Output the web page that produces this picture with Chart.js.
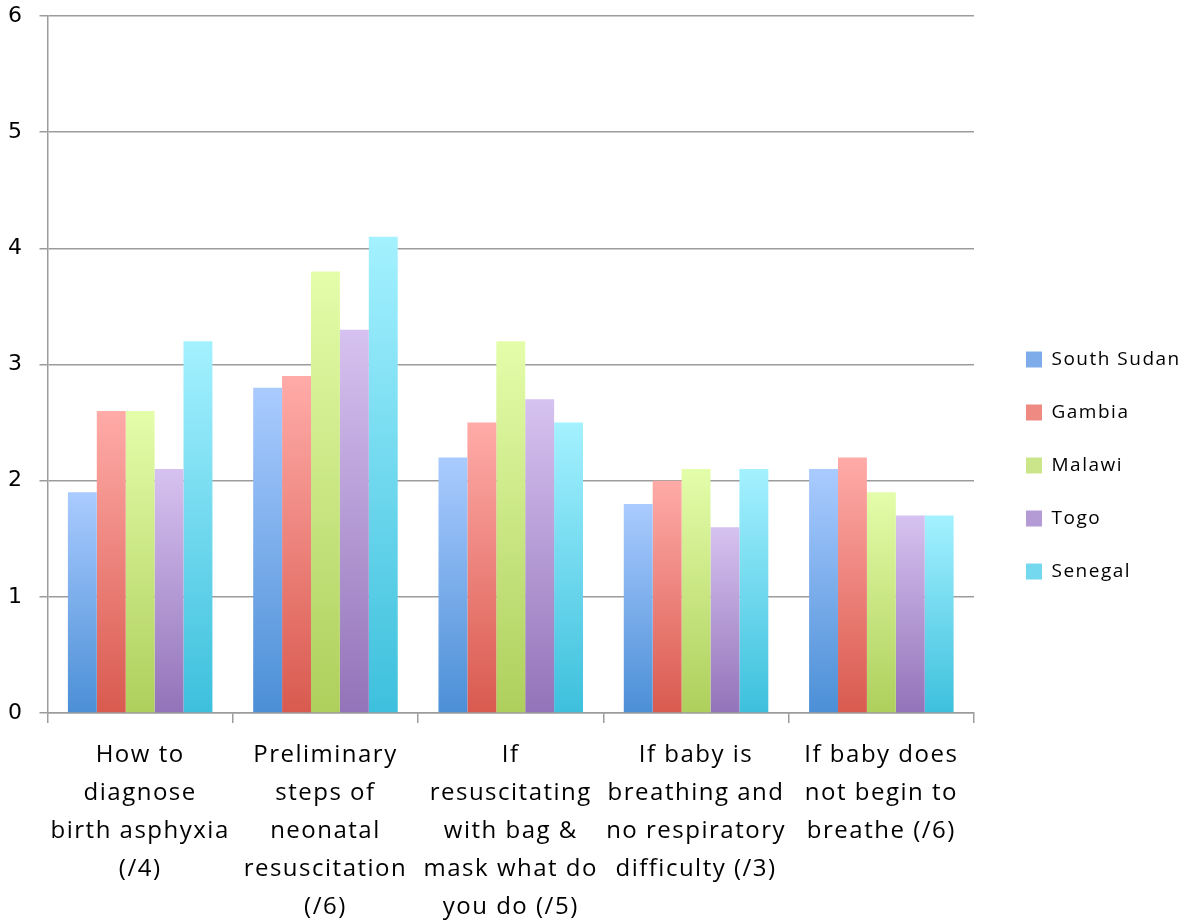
<!DOCTYPE html>
<html>
<head>
<meta charset="utf-8">
<script src="https://cdn.jsdelivr.net/npm/chart.js@4"></script>
<style>
  body { margin: 0; background: #fff; }
  #wrap { width: 1182px; height: 923px; }
</style>
</head>
<body>
<div id="wrap"><canvas id="chart" width="1182" height="923"></canvas></div>
<script>
const categories = [
  ['How to', 'diagnose', 'birth asphyxia', '(/4)'],
  ['Preliminary', 'steps of', 'neonatal', 'resuscitation', '(/6)'],
  ['If', 'resuscitating', 'with bag &', 'mask what do', 'you do (/5)'],
  ['If baby is', 'breathing and', 'no respiratory', 'difficulty (/3)'],
  ['If baby does', 'not begin to', 'breathe (/6)']
];

const southSudan = [1.9, 2.8, 2.2, 1.8, 2.1];
const gambia     = [2.6, 2.9, 2.5, 2.0, 2.2];
const malawi     = [2.6, 3.8, 3.2, 2.1, 1.9];
const togo       = [2.1, 3.3, 2.7, 1.6, 1.7];
const senegal    = [3.2, 4.1, 2.5, 2.1, 1.7];

const yTicks = [0, 1, 2, 3, 4, 5, 6];

// top colour, bottom colour, legend colour
const palette = {
  'South Sudan': ['#aacbff', '#4b8fd6', '#7eacea'],
  'Gambia':      ['#ffaba8', '#d95a4f', '#ef8a82'],
  'Malawi':      ['#e4fdaa', '#aecf5c', '#cbe68a'],
  'Togo':        ['#d6c2f0', '#9373b9', '#b59bd6'],
  'Senegal':     ['#a4f1ff', '#3dc0dd', '#74d9ee']
};

// every bar gets its own light-top / dark-bottom gradient
function barGradient(name) {
  return ctx => {
    const chart = ctx.chart;
    const y = chart.scales && chart.scales.y;
    if (!chart.chartArea || !y || ctx.raw === undefined) return palette[name][2];
    const top = y.getPixelForValue(ctx.raw);
    const bottom = y.getPixelForValue(0);
    if (!isFinite(top) || top === bottom) return palette[name][2];
    const g = chart.ctx.createLinearGradient(0, top, 0, bottom);
    g.addColorStop(0, palette[name][0]);
    g.addColorStop(1, palette[name][1]);
    return g;
  };
}

function series(name, data) {
  return {
    label: name,
    data: data,
    backgroundColor: barGradient(name),
    borderWidth: 0,
    categoryPercentage: 0.78,
    barPercentage: 1.0
  };
}

// the original text is set wide (Calibri on a Mac), so space the letters a bit.
// canvas resizes wipe the context state, so set it again before layout and drawing
function spaceLetters(chart) {
  if ('letterSpacing' in chart.ctx) chart.ctx.letterSpacing = '1.5px';
}
const wideText = {
  id: 'wideText',
  beforeUpdate: spaceLetters,
  beforeLayout: spaceLetters,
  beforeDraw: spaceLetters
};

// fix the legend column width, then nudge it so it sits where the original one does
const legendPlace = {
  id: 'legendPlace',
  beforeInit(chart) {
    const fit = chart.legend.fit;
    chart.legend.fit = function () {
      fit.call(chart.legend);
      this.width = 208;
    };
  },
  beforeDraw(chart) {
    const lg = chart.legend;
    const shift = 992 - lg.left;
    lg.left += shift;
    lg.right += shift;
    lg.top -= 4;
    lg.bottom -= 4;
  }
};

const gridColor = '#9c9c9c';

new Chart(document.getElementById('chart'), {
  type: 'bar',
  data: {
    labels: categories,
    datasets: [
      series('South Sudan', southSudan),
      series('Gambia', gambia),
      series('Malawi', malawi),
      series('Togo', togo),
      series('Senegal', senegal)
    ]
  },
  plugins: [wideText, legendPlace],
  options: {
    responsive: false,
    animation: false,
    layout: { padding: { top: 0, left: -8, right: 0, bottom: -16 } },
    scales: {
      x: {
        grid: {
          offset: true,
          drawOnChartArea: false,
          drawTicks: true,
          tickLength: 10,
          color: gridColor,
          lineWidth: 1.5
        },
        border: { color: gridColor, width: 1.5 },
        ticks: {
          color: '#000',
          padding: 13,
          maxRotation: 0,
          autoSkip: false,
          font: { family: '"Open Sans", sans-serif', size: 24, lineHeight: '38px' }
        }
      },
      y: {
        min: 0,
        max: 6,
        afterBuildTicks: axis => { axis.ticks = yTicks.map(v => ({ value: v })); },
        afterFit: axis => { axis.paddingTop = 16; },
        grid: { color: gridColor, lineWidth: 1.5, tickLength: 8 },
        border: { color: gridColor, width: 1.5 },
        ticks: {
          color: '#000',
          padding: 16,
          font: { family: '"DejaVu Sans", Verdana, sans-serif', size: 22 }
        }
      }
    },
    plugins: {
      legend: {
        position: 'right',
        labels: {
          boxWidth: 16,
          boxHeight: 16,
          padding: 34,
          color: '#000',
          font: { family: '"Open Sans", sans-serif', size: 19 },
          generateLabels: chart => chart.data.datasets.map((ds, i) => ({
            text: ds.label,
            fillStyle: palette[ds.label][2],
            strokeStyle: palette[ds.label][2],
            lineWidth: 0,
            hidden: false,
            datasetIndex: i
          }))
        }
      },
      tooltip: { enabled: false }
    }
  }
});
</script>
</body>
</html>
